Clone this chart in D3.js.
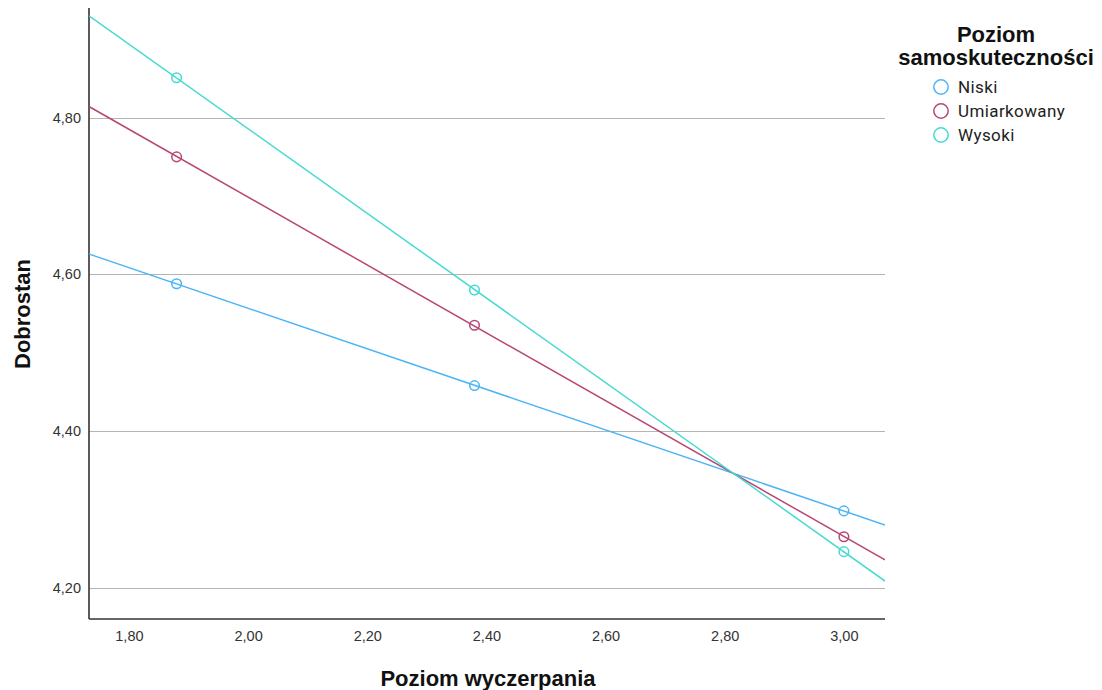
<!DOCTYPE html>
<html>
<head>
<meta charset="utf-8">
<script src="https://cdn.jsdelivr.net/npm/d3@7"></script>
<style>
  html, body { margin: 0; padding: 0; background: #fff; }
  svg { display: block; }
</style>
</head>
<body>
<svg id="chart" width="1102" height="690"></svg>
<script>
// Predicted wellbeing at three levels of exhaustion, per self-efficacy group
const exhaustion = [1.88, 2.38, 3.00];
const groups = ["Niski", "Umiarkowany", "Wysoki"];
const niski = [4.588, 4.458, 4.298];
const umiarkowany = [4.750, 4.535, 4.265];
const wysoki = [4.851, 4.580, 4.246];
const xTicks = [1.8, 2.0, 2.2, 2.4, 2.6, 2.8, 3.0];
const yTicks = [4.2, 4.4, 4.6, 4.8];
const colors = ["#4db5f6", "#b84775", "#45dad3"];

const seriesValues = [niski, umiarkowany, wysoki];
const series = groups.map((g, i) => ({
  name: g,
  color: colors[i],
  points: exhaustion.map((x, j) => ({ x, y: seriesValues[i][j] }))
}));

const svg = d3.select("#chart");
const plotLeft = 89, plotRight = 885, plotTop = 8, plotBottom = 619;

const x = d3.scaleLinear().domain([1.733, 3.069]).range([plotLeft, plotRight]);
const y = d3.scaleLinear().domain([4.16, 4.94]).range([plotBottom, plotTop]);

const fmt = v => d3.format(".2f")(v).replace(".", ",");

// horizontal grid lines
svg.append("g")
  .selectAll("line")
  .data(yTicks)
  .join("line")
  .attr("x1", plotLeft).attr("x2", plotRight)
  .attr("y1", d => Math.round(y(d)) + 0.5).attr("y2", d => Math.round(y(d)) + 0.5)
  .attr("stroke", "#b4b4b4").attr("stroke-width", 1);

// axes
const xAxis = svg.append("g")
  .attr("transform", `translate(0,${plotBottom})`)
  .call(d3.axisBottom(x).tickValues(xTicks).tickFormat(fmt).tickSize(0).tickPadding(12));
const yAxis = svg.append("g")
  .attr("transform", `translate(${plotLeft},0)`)
  .call(d3.axisLeft(y).tickValues(yTicks).tickFormat(fmt).tickSize(0).tickPadding(8));

[xAxis, yAxis].forEach(a => {
  a.select(".domain").attr("stroke", "#333").attr("stroke-width", 1.6);
  a.selectAll("text")
    .attr("fill", "#333")
    .style("font-family", "'Liberation Sans', Arial, sans-serif")
    .style("font-size", "14.5px");
});
// only the left and bottom axis lines, spanning the plot area
xAxis.select(".domain").attr("d", `M${plotLeft},0H${plotRight}`);
yAxis.select(".domain").attr("d", `M0,${plotTop}V${plotBottom}`);

// least-squares line for each group, extended across the plot
function fit(pts) {
  const mx = d3.mean(pts, p => p.x), my = d3.mean(pts, p => p.y);
  const b = d3.sum(pts, p => (p.x - mx) * (p.y - my)) / d3.sum(pts, p => (p.x - mx) ** 2);
  return { a: my - b * mx, b };
}

svg.append("clipPath").attr("id", "plot-clip")
  .append("rect").attr("x", plotLeft).attr("y", plotTop)
  .attr("width", plotRight - plotLeft).attr("height", plotBottom - plotTop);

const plot = svg.append("g").attr("clip-path", "url(#plot-clip)");

series.forEach(s => {
  const f = fit(s.points);
  const [x0, x1] = x.domain();
  plot.append("line")
    .attr("x1", x(x0)).attr("y1", y(f.a + f.b * x0))
    .attr("x2", x(x1)).attr("y2", y(f.a + f.b * x1))
    .attr("stroke", s.color).attr("stroke-width", 1.5);
});

series.forEach(s => {
  plot.append("g")
    .selectAll("circle")
    .data(s.points)
    .join("circle")
    .attr("cx", d => x(d.x)).attr("cy", d => y(d.y))
    .attr("r", 4.8)
    .attr("fill", "none")
    .attr("stroke", s.color).attr("stroke-width", 1.5);
});

// axis titles
const titleFont = "'Liberation Sans', Arial, sans-serif";
svg.append("text")
  .attr("x", 488).attr("y", 686)
  .attr("text-anchor", "middle")
  .style("font-family", titleFont)
  .style("font-weight", "bold").style("font-size", "22px")
  .attr("fill", "#111")
  .text("Poziom wyczerpania");

svg.append("text")
  .attr("transform", "translate(30,314) rotate(-90)")
  .attr("text-anchor", "middle")
  .style("font-family", titleFont)
  .style("font-weight", "bold").style("font-size", "22px")
  .attr("fill", "#111")
  .text("Dobrostan");

// legend
const legend = svg.append("g");
legend.append("text")
  .attr("x", 996).attr("y", 42)
  .attr("text-anchor", "middle")
  .style("font-family", titleFont)
  .style("font-weight", "bold").style("font-size", "22px")
  .attr("fill", "#111")
  .selectAll("tspan")
  .data(["Poziom", "samoskuteczności"])
  .join("tspan")
  .attr("x", 996)
  .attr("dy", (d, i) => i === 0 ? 0 : 23)
  .text(d => d);

const items = legend.selectAll("g.item")
  .data(series)
  .join("g")
  .attr("class", "item")
  .attr("transform", (d, i) => `translate(941,${87 + i * 24})`);
items.append("circle")
  .attr("r", 7.2)
  .attr("fill", "none")
  .attr("stroke", d => d.color).attr("stroke-width", 1.5);
items.append("text")
  .attr("x", 17).attr("y", 6)
  .style("font-family", "Roboto, 'Liberation Sans', sans-serif")
  .style("font-size", "17px")
  .style("letter-spacing", "0.4px")
  .attr("fill", "#222")
  .text(d => d.name);
</script>
</body>
</html>
